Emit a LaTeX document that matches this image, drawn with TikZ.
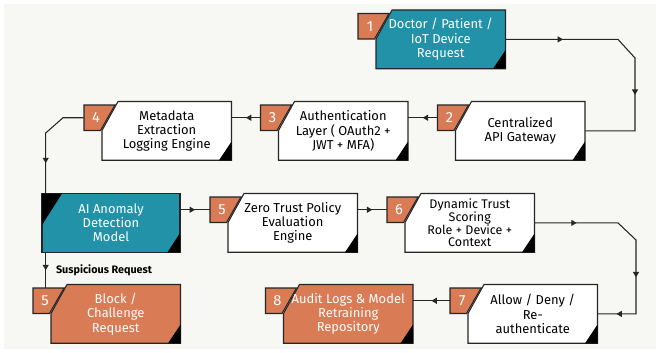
\documentclass[tikz,border=0pt]{standalone}
\usepackage{fontspec}
\setmainfont{Fira Sans}
\usetikzlibrary{arrows.meta,decorations.markings}

\definecolor{stepteal}{HTML}{2192A8}
\definecolor{steporange}{HTML}{D97B55}
\definecolor{paper}{HTML}{F7F7F3}
\definecolor{edge}{HTML}{262626}

\tikzset{
  outline/.style={draw=edge, line width=0.8pt},
  link/.style={draw=edge, line width=0.8pt},
  tip at/.style={postaction={decorate, decoration={markings,
      mark=at position #1 with {\arrow{Triangle[length=4pt,width=4.5pt]}}}}},
  boxtext/.style={inner sep=0pt, align=center, minimum width=97.1pt,
      minimum height=44pt, font=\fontsize{9.7}{10.7}\selectfont},
  badgenum/.style={inner sep=0pt, minimum width=18pt, minimum height=19pt,
      text=white, font=\fontsize{11}{12}\selectfont},
  cue/.style={right=4pt, font=\bfseries\fontsize{8.1}{9}\selectfont},
}

% [node options]{name}{left}{top}{fill}{text colour}{number}{text}
\newcommand{\flowstep}[8][]{%
  \filldraw[outline, fill=#5] (#3+16,#4) -- (#3+129.5,#4) -- (#3+129.5,#4+58.75)
    -- (#3,#4+58.75) -- (#3,#4+29) -- cycle;
  \fill[black] (#3+117,#4+58.75) -- (#3+129.5,#4+58.75) -- (#3+129.5,#4+40) -- cycle;
  \filldraw[outline, fill=steporange] (#3-18,#4+3.5) -- (#3+13,#4+3.5)
    -- (#3-1.5,#4+29) -- (#3-18,#4+29) -- cycle;
  \node[badgenum] (#2n) at (#3-6,#4+16.25) {#7};
  \node[boxtext, text=#6, #1] (#2) at (#3+64.75,#4+29.4) {#8};
}

\begin{document}
\begin{tikzpicture}[x=0.75pt, y=-0.75pt]
  \useasboundingbox (0,0) rectangle (660,353);
  \fill[white] (0,0) rectangle (660,353);
  \fill[paper] (4,4) rectangle (656,349);

  % Steps
  \flowstep{b1}{376}{10}{stepteal}{white}{1}{Doctor / Patient /\\IoT Device\\Request}
  \flowstep{b2}{455.5}{101.5}{white}{black}{2}{Centralized\\API Gateway}
  \flowstep{b3}{278.5}{101.5}{white}{black}{3}{Authentication\\Layer ( OAuth2 +\\JWT + MFA)}
  \flowstep{b4}{102}{101.5}{white}{black}{4}{Metadata\\Extraction\\Logging Engine}
  \flowstep{b5}{228}{193.5}{white}{black}{5}{Zero Trust Policy\\Evaluation\\Engine}
  \flowstep[font=\fontsize{9.4}{9.6}\selectfont]{b6}{405}{193.5}{white}{black}{6}{Dynamic Trust\\Scoring\\Role + Device +\\Context}
  \flowstep{b7}{468}{284.5}{white}{black}{7}{Allow / Deny /\\Re-\\authenticate}
  \flowstep{b8}{283.5}{284.5}{steporange}{white}{8}{Audit Logs \& Model\\Retraining\\Repository}
  \flowstep{bb}{51}{284.5}{steporange}{white}{5}{Block /\\Challenge\\Request}

  % Anomaly model
  \filldraw[outline, fill=stepteal] (42,193.5) rectangle (180,252.25);
  \fill[black] (42,193.5) -- (62,193.5) -- (42,225) -- cycle;
  \fill[black] (167.5,252.25) -- (180,252.25) -- (180,233) -- cycle;
  \node[boxtext, text=white, minimum width=103.5pt] (ai) at (111,222.9) {AI Anomaly\\Detection\\Model};

  % Connectors
  \coordinate (k1) at (618,39.4);
  \coordinate (k2) at (635,58);
  \draw[link, tip at=0.22, tip at=0.67] (b1.east) -- (k1) -- (k2) |- (b2.east);
  \draw[link, tip at=0.5] (b2n.west) -- (b2n.west -| b3.east);
  \draw[link, tip at=0.5] (b3n.west) -- (b3n.west -| b4.east);

  \coordinate (k3) at (63,117.75);
  \coordinate (k4) at (45.7,133);
  \draw[link, tip at=0.71] (b4n.west) -- (k3) -- (k4) -- (k4 |- ai.north);

  \draw[link, tip at=0.5] (b5n.west -| ai.east) -- (b5n.west);
  \draw[link, tip at=0.5] (b6n.west -| b5.east) -- (b6n.west);

  \coordinate (k5) at (618,222.9);
  \coordinate (k6) at (636,240);
  \draw[link, tip at=0.19, tip at=0.66, tip at=0.915] (b6.east) -- (k5) -- (k6) |- (b7.east);
  \draw[link, tip at=0.5] (b7n.west) -- (b7n.west -| b8.east);

  \draw[link, tip at=0.5] (k4 |- ai.south) -- node[cue] (susp) {Suspicious Request} (k4 |- bbn.north);
\end{tikzpicture}
\end{document}
